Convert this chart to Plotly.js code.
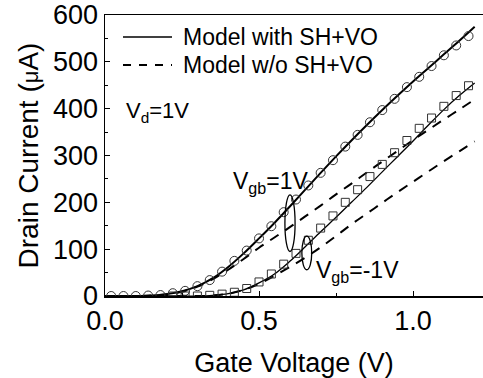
<!DOCTYPE html>
<html>
<head>
<meta charset="utf-8">
<script src="https://cdn.plot.ly/plotly-3.0.1.min.js"></script>
<style>html,body{margin:0;padding:0;background:#fff;}#chart{width:483px;height:378px;}</style>
</head>
<body>
<div id="chart"></div>
<script>
// Measured data (circles: Vgb = 1V, squares: Vgb = -1V)
const vgMeasP = [0.02,0.06,0.10,0.14,0.18,0.22,0.26,0.30,0.34,0.38,0.42,0.46,0.50,0.54,0.58,0.62,0.66,0.70,0.74,0.78,0.82,0.86,0.90,0.94,0.98,1.02,1.06,1.10,1.14,1.18];
const idMeasP = [0,0,0,1,2,6,11,21,34,52,75,97,123,149,179,206,236,263,290,319,344,371,397,421,446,468,491,514,535,555];
const vgMeasN = [0.22,0.26,0.30,0.34,0.38,0.42,0.46,0.50,0.54,0.58,0.62,0.66,0.70,0.74,0.78,0.82,0.86,0.90,0.94,0.98,1.02,1.06,1.10,1.14,1.18];
const idMeasN = [0,0,0,1.4,4,8,16,30,47,68,91,119,145,171,200,227,255,281,306,332,358,380,405,428,449];
// Model curves
const vgModel = [0,0.05,0.10,0.15,0.20,0.25,0.30,0.35,0.40,0.45,0.50,0.55,0.60,0.65,0.70,0.75,0.80,0.85,0.90,0.95,1.00,1.05,1.10,1.15,1.20];
const idWithP = [0,0,0,1,4,10,21,38,62,91,123,156,191,227,263,298,332,365,397,428,458,487,516,545,575];
const idWoP   = [0,0,0,1,3.5,9,20,36,56,79,103,125,147,170,193,217,240,264,287,310,333,355,377,398,420];
const idWithN = [0,0,0,0,0,0,0,1.5,5,13,28,47,74,105,137,168,200,232,265,298,331,365,398,428,455];
const idWoN   = [0,0,0,0,0,0,0,1,5,13,26,43,62,82,104,128,153,176,199,222,244,266,288,309,330];
const yTicks = [0,100,200,300,400,500,600];
const xTicks = [0.0,0.5,1.0];

const FONT = 'Liberation Sans, Arial, sans-serif';
const dashStyle = '10px,8px';

const traces = [
  {x: vgModel, y: idWoP, mode:'lines', line:{color:'#000', width:2, dash:dashStyle, shape:'spline'}, hoverinfo:'skip'},
  {x: vgModel, y: idWoN, mode:'lines', line:{color:'#000', width:2, dash:dashStyle, shape:'spline'}, hoverinfo:'skip'},
  {x: vgModel, y: idWithP, mode:'lines', line:{color:'#000', width:2, shape:'spline'}},
  {x: vgModel, y: idWithN, mode:'lines', line:{color:'#000', width:1.3, shape:'spline'}},
  {x: vgMeasP, y: idMeasP, mode:'markers', marker:{symbol:'circle-open', size:9, color:'#333', line:{width:1, color:'#333'}}},
  {x: vgMeasN, y: idMeasN, mode:'markers', marker:{symbol:'square-open', size:8, color:'#333', line:{width:1, color:'#333'}}}
];

const layout = {
  width: 483, height: 378,
  margin: {l:105, r:0, t:15, b:82},
  paper_bgcolor:'#fff', plot_bgcolor:'#fff',
  showlegend: false,
  font: {family: FONT, color:'#000', size:27},
  xaxis: {
    range: [0, 1.227], tickvals: xTicks, ticktext: xTicks.map(v => v.toFixed(1)),
    ticks:'inside', ticklen:5, tickwidth:1, tickcolor:'#000',
    minor: {tickvals:[0.25,0.75], ticks:'inside', ticklen:3, tickwidth:1, tickcolor:'#000'},
    showline:true, linecolor:'#000', linewidth:1.5, mirror:true,
    showgrid:false, zeroline:false,
    tickfont:{family:FONT, size:27},
    title:{text:'Gate Voltage (V)', font:{family:FONT, size:27}, standoff:20}
  },
  yaxis: {
    range: [0, 600], tickvals: yTicks,
    ticks:'inside', ticklen:5, tickwidth:1, tickcolor:'#000',
    minor: {dtick:50, ticks:'inside', ticklen:3, tickwidth:1, tickcolor:'#000'},
    showline:true, linecolor:'#000', linewidth:1.5,
    showgrid:false, zeroline:false,
    tickfont:{family:FONT, size:27},
    title:{text:'Drain Current (<span style="font-size:22px">μ</span>A)', font:{family:FONT, size:28}, standoff:6}
  },
  shapes: [
    {type:'line', xref:'paper', yref:'paper', x0:(123-105)/378, x1:(172-105)/378, y0:(296-37)/281, y1:(296-37)/281, line:{color:'#000', width:1.5}},
    {type:'line', xref:'paper', yref:'paper', x0:(123-105)/378, x1:(172-105)/378, y0:(296-65)/281, y1:(296-65)/281, line:{color:'#000', width:2, dash:'8px,8px'}},
    {type:'circle', xref:'x', yref:'y', x0:0.584, x1:0.617, y0:95, y1:216, line:{color:'#000', width:1.3}},
    {type:'circle', xref:'x', yref:'y', x0:0.639, x1:0.671, y0:56, y1:128, line:{color:'#000', width:1.3}}
  ],
  annotations: [
    {xref:'paper', yref:'paper', x:(181-105)/378, y:(296-37)/281, xanchor:'left', yanchor:'middle', showarrow:false, text:'Model with SH+VO', font:{family:FONT, size:23}},
    {xref:'paper', yref:'paper', x:(181-105)/378, y:(296-65)/281, xanchor:'left', yanchor:'middle', showarrow:false, text:'Model w/o SH+VO', font:{family:FONT, size:23}},
    {xref:'x', yref:'y', x:0.062, y:392, xanchor:'left', yanchor:'middle', showarrow:false, text:'V<sub>d</sub>=1V', font:{family:FONT, size:22}},
    {xref:'x', yref:'y', x:0.41, y:242, xanchor:'left', yanchor:'middle', showarrow:false, text:'V<sub>gb</sub>=1V', font:{family:FONT, size:23}},
    {xref:'x', yref:'y', x:0.678, y:52, xanchor:'left', yanchor:'middle', showarrow:false, text:'V<sub>gb</sub>=-1V', font:{family:FONT, size:23}}
  ]
};

Plotly.newPlot('chart', traces, layout, {displayModeBar:false, staticPlot:true});
</script>
</body>
</html>
